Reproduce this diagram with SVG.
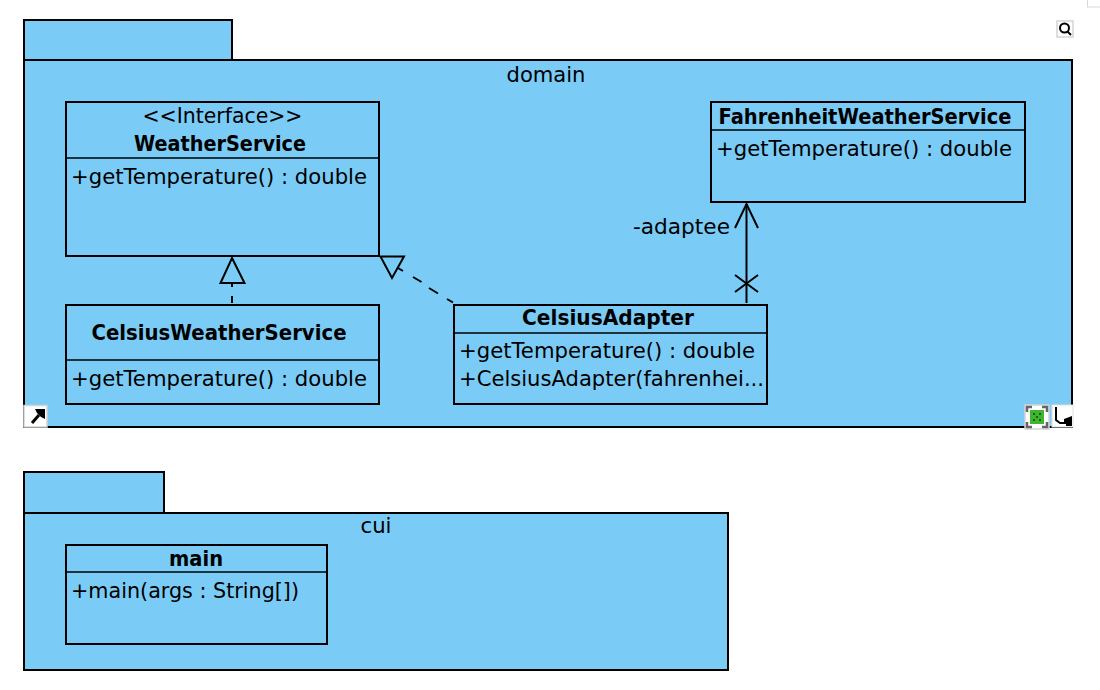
<svg xmlns="http://www.w3.org/2000/svg" width="1100" height="690" viewBox="0 0 1100 690">
<style>
.pkg{fill:#7accf6;stroke:#000;stroke-width:2}
.box{fill:#7accf6;stroke:#000;stroke-width:2}
.sep{stroke:#000;stroke-width:1.6;fill:none}
text{font-family:"DejaVu Sans",sans-serif;font-size:21px;fill:#000}
.b{font-weight:bold;text-anchor:middle}
.c{text-anchor:middle}
.ln{stroke:#000;stroke-width:2;fill:none}
.dash{stroke:#000;stroke-width:2;fill:none;stroke-dasharray:10 10}
.ic{fill:#fff;stroke:#d4d4d4;stroke-width:1.5}
</style>
<rect x="1087.500" y="-4" width="20" height="11" fill="#fff" stroke="#d8d8d8"/>
<g id="pkg-domain">
<rect class="pkg" x="24" y="20" width="208" height="40"/>
<rect class="pkg" x="24" y="60" width="1048" height="367"/>
<text class="c" x="546" y="82" textLength="79" lengthAdjust="spacingAndGlyphs">domain</text>
</g>
<g id="pkg-cui">
<rect class="pkg" x="24" y="472" width="140" height="41"/>
<rect class="pkg" x="24" y="513" width="704" height="157"/>
<text class="c" x="376" y="533" textLength="31" lengthAdjust="spacingAndGlyphs">cui</text>
</g>
<g id="WeatherService">
<rect class="box" x="66" y="102" width="313" height="154"/>
<line class="sep" x1="66" y1="158" x2="379" y2="158"/>
<text class="c" x="222.500" y="123" textLength="160" lengthAdjust="spacingAndGlyphs">&lt;&lt;Interface&gt;&gt;</text>
<text class="b" x="220" y="151" textLength="172" lengthAdjust="spacingAndGlyphs">WeatherService</text>
<text x="71" y="184" textLength="296" lengthAdjust="spacingAndGlyphs">+getTemperature() : double</text>
</g>
<g id="FahrenheitWeatherService">
<rect class="box" x="711" y="102" width="314" height="100"/>
<line class="sep" x1="711" y1="130" x2="1025" y2="130"/>
<text class="b" x="865" y="124" textLength="293" lengthAdjust="spacingAndGlyphs">FahrenheitWeatherService</text>
<text x="716" y="156" textLength="296" lengthAdjust="spacingAndGlyphs">+getTemperature() : double</text>
</g>
<g id="CelsiusWeatherService">
<rect class="box" x="66" y="305" width="313" height="99"/>
<line class="sep" x1="66" y1="360" x2="379" y2="360"/>
<text class="b" x="219" y="340" textLength="255" lengthAdjust="spacingAndGlyphs">CelsiusWeatherService</text>
<text x="71" y="386" textLength="296" lengthAdjust="spacingAndGlyphs">+getTemperature() : double</text>
</g>
<g id="CelsiusAdapter">
<rect class="box" x="454" y="305" width="313" height="99"/>
<line class="sep" x1="454" y1="333" x2="767" y2="333"/>
<text class="b" x="608" y="325" textLength="172" lengthAdjust="spacingAndGlyphs">CelsiusAdapter</text>
<text x="459" y="358" textLength="296" lengthAdjust="spacingAndGlyphs">+getTemperature() : double</text>
<text x="459" y="386" textLength="305" lengthAdjust="spacingAndGlyphs">+CelsiusAdapter(fahrenhei...</text>
</g>
<g id="main">
<rect class="box" x="66" y="545" width="261" height="99"/>
<line class="sep" x1="66" y1="572" x2="327" y2="572"/>
<text class="b" x="196" y="566" textLength="54" lengthAdjust="spacingAndGlyphs">main</text>
<text x="71" y="598" textLength="228" lengthAdjust="spacingAndGlyphs">+main(args : String[])</text>
</g>
<g id="connectors">
<path class="ln" d="M232 283V287M232 296V303"/>
<path class="ln" d="M232 258L244.500 283H220.500Z"/>
<path class="ln" d="M398 268L403 271M413 277L421.500 282M429 288L438 293.500M447 299L453 302.500"/>
<path class="ln" d="M380.500 256.500H404L392 278Z"/>
<line class="ln" x1="746.500" y1="204" x2="746.500" y2="303"/>
<path class="ln" d="M735 228L746.500 204L758 228"/>
<path class="ln" d="M735 275L758 292M758 275L735 292"/>
<text x="633" y="234" textLength="97" lengthAdjust="spacingAndGlyphs">-adaptee</text>
</g>
<g id="icon-zoom">
<rect class="ic" x="1057" y="21" width="16" height="16"/>
<circle cx="1064.500" cy="28" r="4.500" fill="none" stroke="#000" stroke-width="2"/>
<path d="M1067.500 31.500L1071 35" stroke="#000" stroke-width="2"/>
</g>
<g id="icon-link">
<path d="M24 405.500H47V427H24Z" fill="#fff" stroke="#d4d4d4" stroke-width="1.500"/>
<path d="M32 423L39 415" stroke="#000" stroke-width="3"/>
<path d="M35 409H45V419L41 417L37 413Z" fill="#000"/>
</g>
<g id="icon-fit">
<rect class="ic" x="1025" y="405" width="24" height="24"/>
<path d="M1027 412V407H1032M1042 407H1047V412M1027 422V427H1032M1042 427H1047V422" fill="none" stroke="#666" stroke-width="2.500"/>
<rect x="1030" y="410" width="14" height="14" fill="#3db52e"/>
<path d="M1033 413h2v2h-2zM1039 413h2v2h-2zM1036 416h2v2h-2zM1033 419h2v2h-2zM1039 419h2v2h-2z" fill="#1c5f14"/>
</g>
<g id="icon-route">
<rect x="1052" y="405" width="21" height="22" fill="#fff" stroke="#e0e0e0"/>
<path d="M1056 407V420L1060 423H1066" fill="none" stroke="#000" stroke-width="2"/>
<path d="M1064 419L1072 416V426H1066V424H1064Z" fill="#000"/>
</g>
</svg>
